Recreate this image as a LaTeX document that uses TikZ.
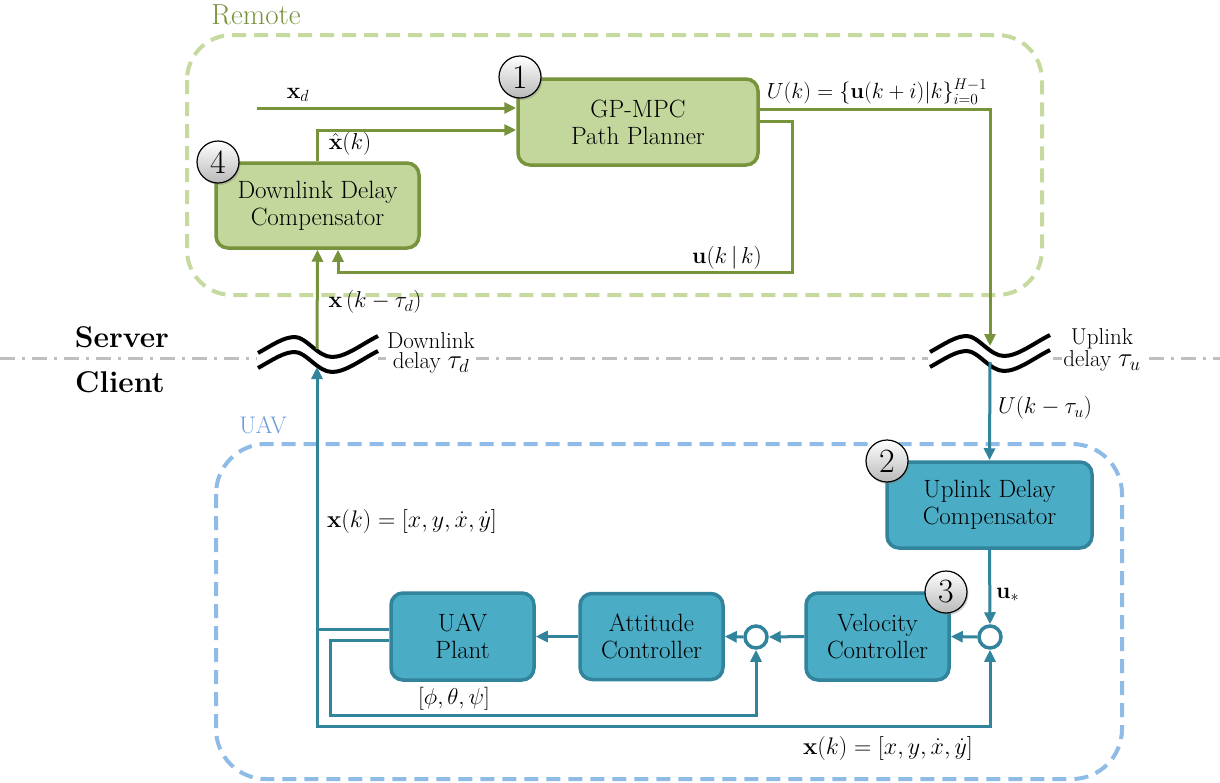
\RequirePackage{fix-cm}
\documentclass[tikz,border=0pt]{standalone}
\usepackage{amsmath}
\usetikzlibrary{arrows.meta,calc,shadows}
\definecolor{gline}{HTML}{77933C}
\definecolor{gfill}{HTML}{C3D69B}
\definecolor{gdash}{HTML}{C6DAA0}
\definecolor{bfill}{HTML}{4BACC6}
\definecolor{bline}{HTML}{31849B}
\definecolor{bdash}{HTML}{8FBCE6}
\definecolor{blabel}{HTML}{6A9BDC}
\definecolor{sepgray}{HTML}{BFBFBF}
\newcommand{\myfs}[1]{\fontsize{#1}{#1}\selectfont}
\tikzset{
  gbox/.style={draw=gline, fill=gfill, line width=3.5pt, rounded corners=12pt, align=center, font=\fontsize{25}{27}\selectfont, inner sep=0pt},
  bbox/.style={draw=bline, fill=bfill, line width=3.5pt, rounded corners=12pt, align=center, font=\fontsize{25}{27}\selectfont, inner sep=0pt},
  numc/.style={circle, draw=black, line width=1.2pt, top color=white, bottom color=gray!55, minimum size=42pt, inner sep=0pt, font=\myfs{34},
    drop shadow={opacity=0.35, shadow xshift=1.5pt, shadow yshift=-2pt}},
  sumc/.style={circle, draw=bline, fill=white, line width=3.5pt, minimum size=22pt, inner sep=0pt},
  gconn/.style={draw=gline, line width=3pt, -{Triangle[length=12pt,width=11pt]}},
  bconn/.style={draw=bline, line width=3pt, -{Triangle[length=12pt,width=11pt]}},
  lab/.style={font=\myfs{23}, inner sep=1pt},
  wavy/.style={draw=black, line width=4pt},
  sepline/.style={draw=sepgray, line width=3pt, dash pattern=on 15pt off 7pt on 3pt off 7pt},
  dlabel/.style={font=\fontsize{23}{20}\selectfont, align=center, fill=white, inner sep=1pt},
}
\newcommand{\wavepair}{%
  \draw[wavy] (0,0) .. controls (16,-9) and (26,-16) .. (37,-16) .. controls (48,-16) and (60,4) .. (74,4) .. controls (88,4) and (104,-9) .. (120,-17);
  \draw[wavy] (0,15) .. controls (16,6) and (26,-1) .. (37,-1) .. controls (48,-1) and (60,19) .. (74,19) .. controls (88,19) and (104,6) .. (120,-2);
}
\begin{document}
\begin{tikzpicture}[x=1pt,y=-1pt]
\useasboundingbox (0,0) rectangle (1220,782);
\fill[white] (0,0) rectangle (1220,782);

% region frames
\draw[gdash, line width=4pt, dash pattern=on 14pt off 8pt, rounded corners=45pt] (187,35) rectangle (1042,295);
\draw[bdash, line width=4pt, dash pattern=on 14pt off 8pt, rounded corners=50pt] (216,444) rectangle (1122,779);
\node[font=\myfs{29}, text=gline] (remote) at (256,15) {Remote};
\node[font=\myfs{24}, text=blabel] (uavlab) at (263,425) {UAV};

% server / client separator
\draw[sepline] (0,358) -- (257,358);
\draw[sepline] (378,358) -- (928,358);
\draw[sepline] (1053,358) -- (1220,358);
\node[font=\bfseries\myfs{30}] (server) at (122,337) {Server};
\node[font=\bfseries\myfs{30}] (client) at (120,382) {Client};

% delay symbols
\begin{scope}[shift={(258,353)}]\wavepair\end{scope}
\begin{scope}[shift={(930,352)}]\wavepair\end{scope}
\coordinate (dtop) at (317,349);
\coordinate (dbot) at (317,367);
\coordinate (utop) at (990,346);
\coordinate (ubot) at (990,362);
\node[dlabel] (dlab) at (431,353) {Downlink\\delay {\myfs{27}$\tau_d$}};
\node[dlabel] (ulab) at (1102,350) {Uplink\\delay {\myfs{27}$\tau_u$}};

% remote blocks
\node[gbox, minimum width=240pt, minimum height=86pt] (gp) at (638,122) {GP-MPC\\Path Planner};
\node[gbox, minimum width=203pt, minimum height=85pt] (ddc) at (317.5,205.5) {Downlink Delay\\Compensator};
\node[numc] (n1) at (520,77) {1};
\node[numc] (n4) at (218,162) {4};

% UAV blocks
\node[bbox, minimum width=205pt, minimum height=86pt] (udc) at (989.5,505) {Uplink Delay\\Compensator};
\node[bbox, minimum width=143pt, minimum height=87pt] (vc) at (877.5,636.5) {Velocity\\Controller};
\node[bbox, minimum width=143pt, minimum height=86pt] (ac) at (651.5,636.5) {Attitude\\Controller};
\node[bbox, minimum width=143pt, minimum height=87pt] (plant) at (462.5,636.5) {UAV\\Plant};
\node[sumc] (s1) at (990,637) {};
\node[sumc] (s2) at (756,637) {};
\node[numc] (n2) at (887,461) {2};
\node[numc] (n3) at (946,592) {3};

% remote connectors
\coordinate (xdin) at (257,108);
\draw[gconn] (xdin) -- (xdin -| gp.west);
\draw[gconn] (ddc.north) |- ($(gp.west)+(0,8)$);
\draw[gconn] ($(gp.east)+(0,-13)$) -| (utop);
\coordinate (ukkc) at (792,272);
\draw[gconn] ($(gp.east)+(0,-1)$) -| (ukkc) -| ($(ddc.south)+(20.5,0)$);
\draw[gconn] (dtop) -- (ddc.south);

% client connectors
\draw[bconn] (ubot) -- (udc.north);
\draw[bconn] (udc.south) -- (s1.north);
\draw[bconn] (s1.west) -- (vc.east);
\draw[bconn] (vc.west) -- (s2.east);
\draw[bconn] (s2.west) -- (ac.east);
\draw[bconn] (ac.west) -- (plant.east);
\coordinate (pl1) at ($(plant.west)+(0,-7.5)$);
\coordinate (pl2) at ($(plant.west)+(0,3.5)$);
\coordinate (xk) at (317,629);
\coordinate (xb) at (317,726);
\coordinate (ab) at (330,715);
\draw[bconn] (pl1) -- (xk) -- (dbot);
\draw[bconn] (xk) -- (xb) -| (s1.south);
\draw[bconn] (pl2) -| (ab) -| (s2.south);

% labels
\node[lab] (lxd) at (298,95) {$\mathbf{x}_d$};
\node[lab] (lxh) at (350,144) {$\hat{\mathbf{x}}(k)$};
\node[lab, font=\myfs{22}] (lU) at (877,92) {$U(k)=\{\mathbf{u}(k+i)|k\}_{i=0}^{H-1}$};
\node[lab] (lukk) at (727,258) {$\mathbf{u}(k\,|\,k)$};
\node[lab] (lxtd) at (375,302) {$\mathbf{x}\,(k-\tau_d)$};
\node[lab] (lUtu) at (1045,408) {$U(k-\tau_u)$};
\node[lab, anchor=west] (lus) at (995,595) {$\mathbf{u}_*$};
\node[lab, font=\myfs{24}] (lxk1) at (412,521) {$\mathbf{x}(k)=[x,y,\dot{x},\dot{y}]$};
\node[lab, font=\myfs{24}] (lxk2) at (888,748) {$\mathbf{x}(k)=[x,y,\dot{x},\dot{y}]$};
\node[lab] (lang) at (454,699) {$[\phi,\theta,\psi]$};
\end{tikzpicture}
\end{document}
